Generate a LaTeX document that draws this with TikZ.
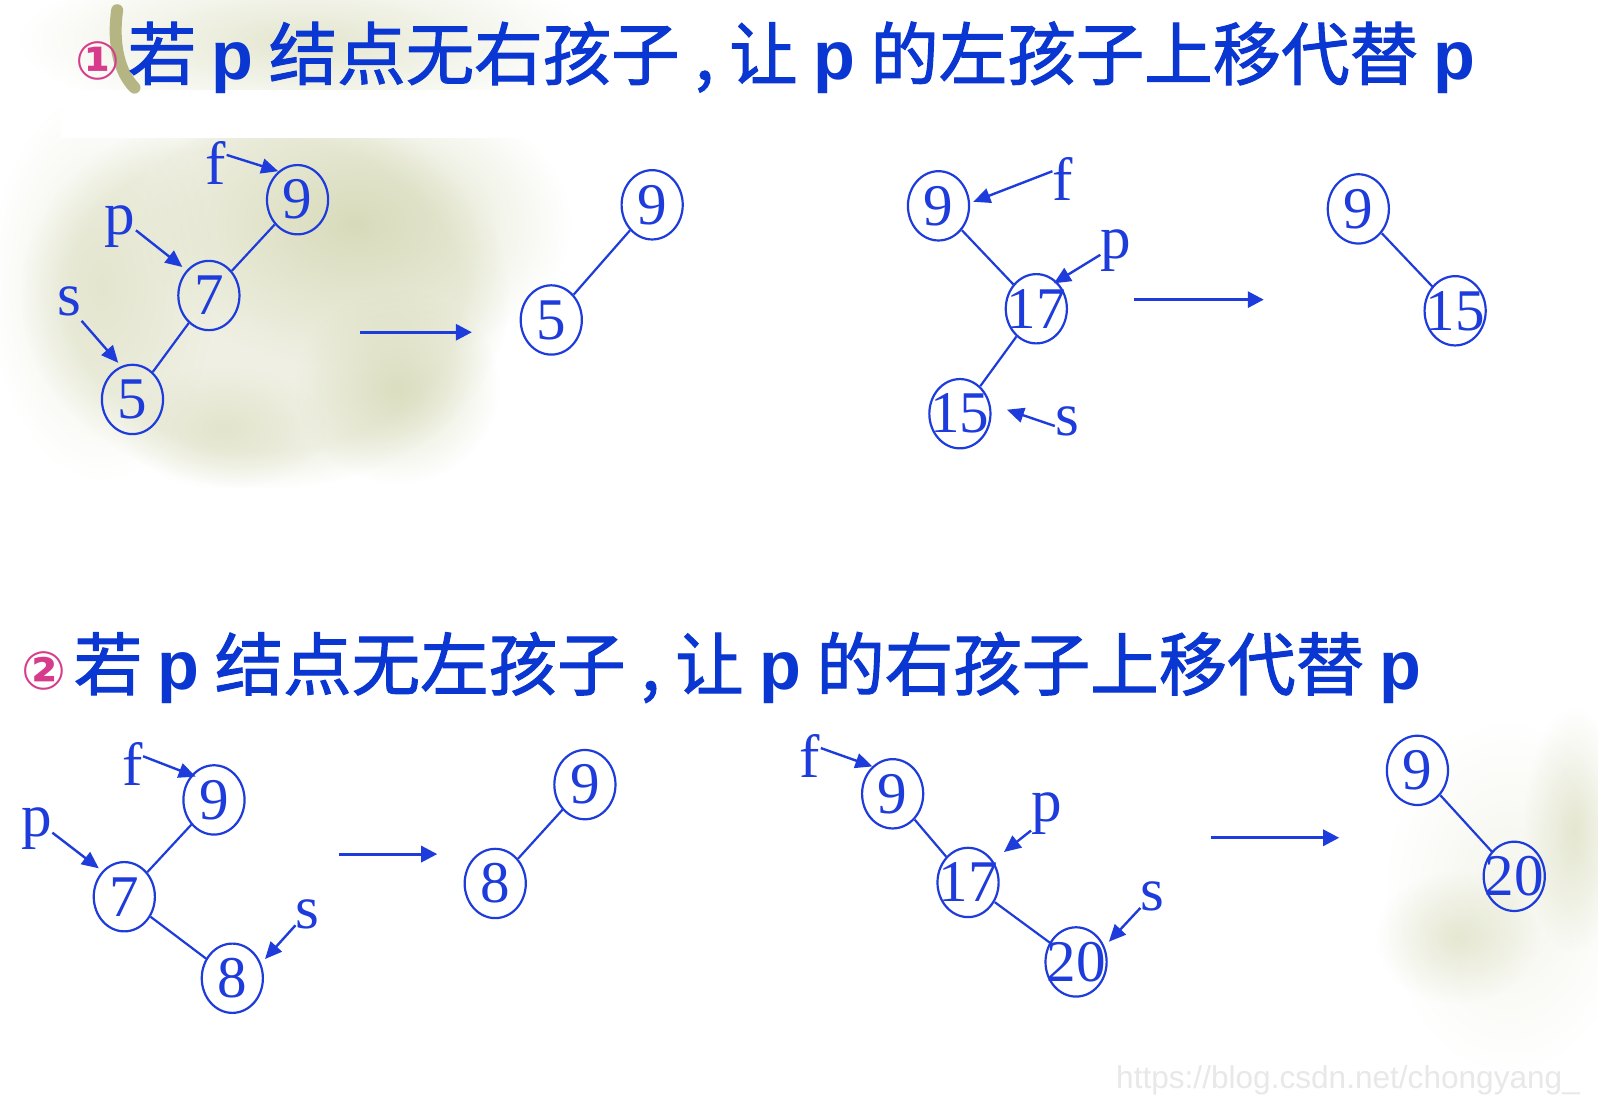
\documentclass[tikz,border=0pt]{standalone}
\usepackage{fontspec}
\setmainfont{Liberation Serif}
\newfontfamily\cjk{Noto Sans CJK SC}[FakeBold=1.5]
\newfontfamily\lsans{Liberation Sans}
\newfontfamily\djv{DejaVu Sans}
\usetikzlibrary{shapes.geometric,arrows.meta,fadings}
\definecolor{tblue}{RGB}{10,55,210}
\definecolor{nblue}{RGB}{30,60,220}
\definecolor{cpink}{RGB}{215,60,140}
\definecolor{olive}{RGB}{210,214,176}
\definecolor{stem}{RGB}{165,165,105}
\definecolor{wm}{RGB}{232,232,232}
\tikzfading[name=softblob, inner color=transparent!0, outer color=transparent!100]
\tikzset{
  tnode/.style={ellipse, draw=nblue, line width=1.1pt, minimum width=30pt, minimum height=34pt, inner sep=0pt, text=nblue, font=\fontsize{29pt}{30pt}\selectfont},
  plabel/.style={text=nblue, inner sep=0pt, font=\fontsize{30pt}{31pt}\selectfont},
  edge/.style={draw=nblue, line width=1.1pt},
  ptr/.style={draw=nblue, line width=1.2pt, -{Triangle[length=8.5pt,width=7.5pt]}},
  bigarr/.style={draw=nblue, line width=1.5pt, -{Triangle[length=8pt,width=8pt]}},
  title/.style={anchor=base west, inner sep=0pt, text=tblue, font=\fontsize{33.6pt}{34pt}\selectfont\cjk},
  circnum/.style={inner sep=0pt, text=cpink, font=\fontsize{26pt}{27pt}\selectfont\djv\bfseries},
  blob/.style={fill=olive, path fading=softblob},
  flatblob/.style={fill=olive, path fading=circle with fuzzy edge 20 percent}
}
\newcommand{\pp}{{\lsans\bfseries p}}
\newcommand{\nz}[1]{\makebox[0pt][c]{#1}}
\begin{document}
\begin{tikzpicture}[x=0.5pt,y=-0.5pt]
\useasboundingbox (0,0) rectangle (1598,1117);
\fill[white] (0,0) rectangle (1598,1117);
\begin{scope}[scale=1.019, transform shape]
% background decoration
\fill[flatblob, opacity=0.35] (260,290) ellipse (240 and 190);
\fill[blob, opacity=0.8] (350,220) ellipse (210 and 140);
\fill[blob, opacity=0.7] (390,380) ellipse (100 and 95);
\fill[blob, opacity=0.4] (100,280) ellipse (110 and 190);
\fill[blob, opacity=0.45] (220,420) ellipse (100 and 60);
\fill[blob, opacity=0.6] (300,40) ellipse (280 and 80);
\fill[white] (60,88) rectangle (1570,135);
\draw[stem, line width=6pt, opacity=0.8, line cap=round] (115,10) .. controls (110,45) and (118,72) .. (132,86);
\fill[blob, opacity=0.55] (1545,815) ellipse (50 and 120);
\fill[blob, opacity=0.5] (1430,920) ellipse (80 and 65);
\fill[blob, opacity=0.25] (1480,880) ellipse (120 and 170);
% titles
\node[circnum] (c1) at (96,60) {①};
\node[title] (t1) at (125,78) {若 \pp{} 结点无右孩子 , 让 \pp{} 的左孩子上移代替 \pp};
\node[circnum] (c2) at (43,658) {②};
\node[title] (t2) at (72,677) {若 \pp{} 结点无左孩子 , 让 \pp{} 的右孩子上移代替 \pp};
% panel 1a
\node[tnode] (a9) at (292,196) {\nz{9}};
\node[tnode] (a7) at (205,290) {\nz{7}};
\node[tnode] (a5) at (130,392) {\nz{5}};
\draw[edge] (a9) -- (a7);
\draw[edge] (a7) -- (a5);
\node[plabel] (af) at (212,160) {f};
\node[plabel] (ap) at (118,222) {p};
\node[plabel] (as) at (68,296) {s};
\coordinate (afe) at (273,168);
\coordinate (ape) at (179,262);
\coordinate (ase) at (116,356);
\draw[ptr] (af.east) ++(0,-8) -- (afe);
\draw[ptr] (ap.east) ++(0,4) -- (ape);
\draw[ptr] (as.south east) ++(0,4) -- (ase);
\coordinate (aa1) at (353,326);
\coordinate (aa2) at (463,326);
\draw[bigarr] (aa1) -- (aa2);
\node[tnode] (b9) at (640,201) {\nz{9}};
\node[tnode] (b5) at (541,314) {\nz{5}};
\draw[edge] (b9) -- (b5);
% panel 1b
\node[tnode] (c9) at (921,202) {\nz{9}};
\node[tnode] (c17) at (1017,303) {\nz{17}};
\node[tnode] (c15) at (942,406) {\nz{15}};
\draw[edge] (c9) -- (c17);
\draw[edge] (c17) -- (c15);
\node[plabel] (cf) at (1043,176) {f};
\node[plabel] (cp) at (1095,246) {p};
\node[plabel] (cs) at (1047,414) {s};
\coordinate (cfe) at (955,198);
\coordinate (cpe) at (1034,278);
\coordinate (cse) at (988,402);
\draw[ptr] (cf.west) ++(0,-8) -- (cfe);
\draw[ptr] (cp.west) ++(0,4) -- (cpe);
\draw[ptr] (cs.west) ++(0,4) -- (cse);
\coordinate (ca1) at (1113,294);
\coordinate (ca2) at (1240,294);
\draw[bigarr] (ca1) -- (ca2);
\node[tnode] (d9) at (1333,205) {\nz{9}};
\node[tnode] (d15) at (1428,305) {\nz{15}};
\draw[edge] (d9) -- (d15);
% panel 2a
\node[tnode] (e9) at (210,785) {\nz{9}};
\node[tnode] (e7) at (122,880) {\nz{7}};
\node[tnode] (e8) at (228,960) {\nz{8}};
\draw[edge] (e9) -- (e7);
\draw[edge] (e7) -- (e8);
\node[plabel] (ef) at (130,750) {f};
\node[plabel] (ep) at (36,813) {p};
\node[plabel] (es) at (302,897) {s};
\coordinate (efe) at (192,762);
\coordinate (epe) at (97,852);
\coordinate (ese) at (260,941);
\draw[ptr] (ef.east) ++(0,-8) -- (efe);
\draw[ptr] (ep.east) ++(0,4) -- (epe);
\draw[ptr] (es.south west) ++(0,-4) -- (ese);
\coordinate (ea1) at (333,838);
\coordinate (ea2) at (429,838);
\draw[bigarr] (ea1) -- (ea2);
\node[tnode] (g9) at (574,770) {\nz{9}};
\node[tnode] (g8) at (486,867) {\nz{8}};
\draw[edge] (g9) -- (g8);
% panel 2b
\node[tnode] (h9) at (876,779) {\nz{9}};
\node[tnode] (h17) at (950,866) {\nz{17}};
\node[tnode] (h20) at (1056,944) {\nz{20}};
\draw[edge] (h9) -- (h17);
\draw[edge] (h17) -- (h20);
\node[plabel] (hf) at (795,742) {f};
\node[plabel] (hp) at (1027,798) {p};
\node[plabel] (hs) at (1131,880) {s};
\coordinate (hfe) at (856,752);
\coordinate (hpe) at (985,836);
\coordinate (hse) at (1088,924);
\draw[ptr] (hf.east) ++(0,-8) -- (hfe);
\draw[ptr] (hp.south west) ++(0,-4) -- (hpe);
\draw[ptr] (hs.south west) ++(0,-4) -- (hse);
\coordinate (ha1) at (1188,822);
\coordinate (ha2) at (1314,822);
\draw[bigarr] (ha1) -- (ha2);
\node[tnode] (k9) at (1391,756) {\nz{9}};
\node[tnode] (k20) at (1486,860) {\nz{20}};
\draw[edge] (k9) -- (k20);
% watermark
\node[anchor=base west, inner sep=0pt, text=wm, font=\fontsize{15.5pt}{16pt}\selectfont\lsans] (wmk) at (1095,1068) {https://blog.csdn.net/chongyang\_};
\end{scope}
\end{tikzpicture}
\end{document}
